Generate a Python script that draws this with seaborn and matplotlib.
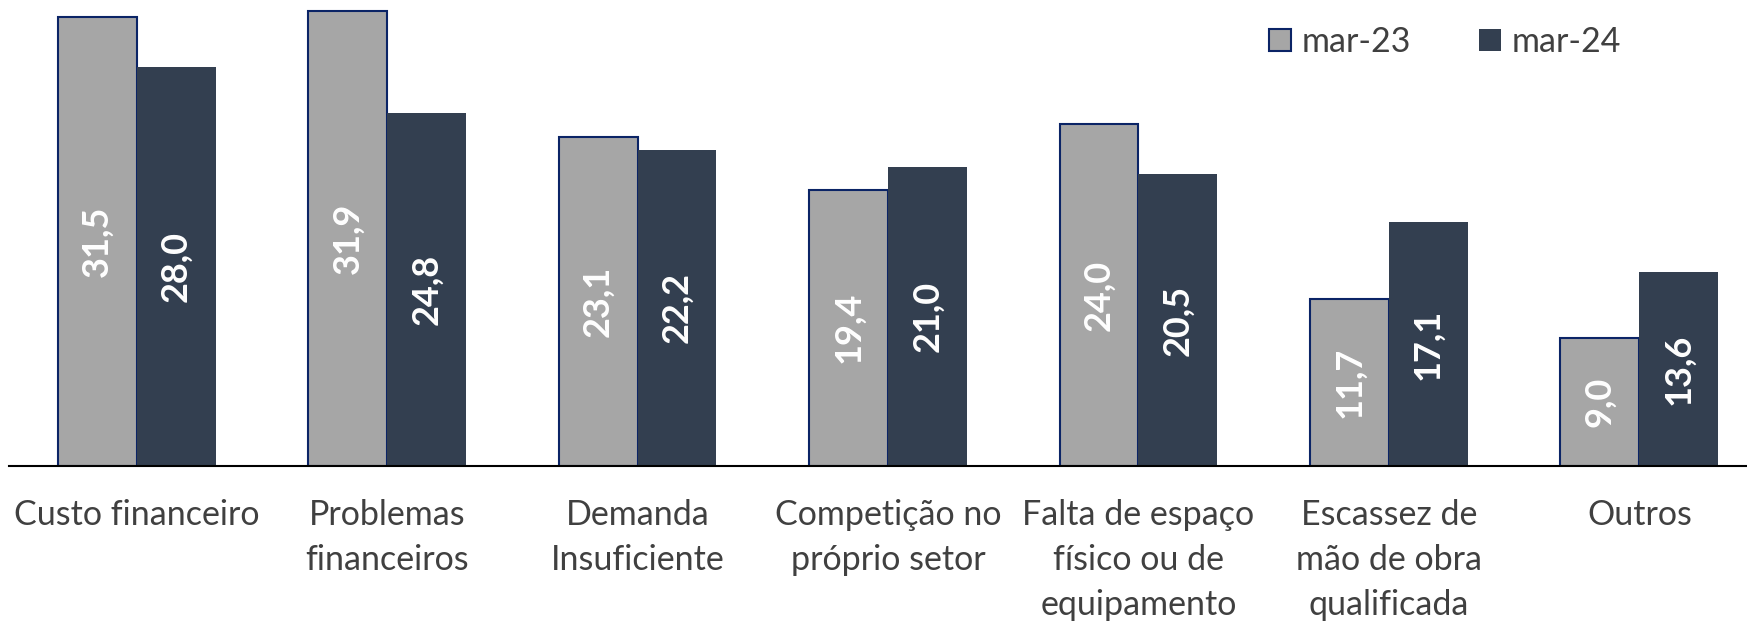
import pandas as pd
import numpy as np
import matplotlib.pyplot as plt
import seaborn as sns

# ============ DADOS ============
categorias = ['Custo financeiro', 'Problemas\nfinanceiros', 'Demanda\nInsuficiente',
              'Competição no\npróprio setor', 'Falta de espaço\nfísico ou de\nequipamento',
              'Escassez de\nmão de obra\nqualificada', 'Outros']
series = ['mar-23', 'mar-24']
mar23 = [31.5, 31.9, 23.1, 19.4, 24.0, 11.7, 9.0]
mar24 = [28.0, 24.8, 22.2, 21.0, 20.5, 17.1, 13.6]

df = pd.DataFrame({
    'categoria': categorias * 2,
    'periodo': [series[0]] * len(categorias) + [series[1]] * len(categorias),
    'valor': mar23 + mar24,
})

# ============ ESTILO ============
sns.set_style('white')
plt.rcParams['font.family'] = ['Lato', 'DejaVu Sans']
cores = {'mar-23': '#A6A6A6', 'mar-24': '#333F50'}
cor_texto = '#404040'
cor_borda = '#0B2466'

fig = plt.figure(figsize=(17.47, 6.22), dpi=100)
ax = fig.add_axes([9 / 1747, 1 - 466 / 622, 1 - 9 / 1747, 466 / 622])

sns.barplot(data=df, x='categoria', y='valor', hue='periodo', order=categorias,
            hue_order=series, palette=cores, width=0.63, saturation=1, ax=ax,
            edgecolor='none', linewidth=0)

# borda azul escura nas barras cinzas
for p in ax.containers[0]:
    p.set_edgecolor(cor_borda)
    p.set_linewidth(1.5)

for cont in ax.containers:
    ax.bar_label(cont, labels=[f'{v:.1f}'.replace('.', ',') for v in cont.datavalues],
                 label_type='center', rotation=90, color='white', fontsize=26,
                 fontweight='bold')

ax.set_ylim(0, 466 / 14.25)
ax.set_xlim(-0.51, 6.43)
ax.set_yticks([])
ax.set_xlabel('')
ax.set_ylabel('')
for s in ['top', 'right', 'left']:
    ax.spines[s].set_visible(False)
ax.spines['bottom'].set_color('black')
ax.spines['bottom'].set_linewidth(1.5)
ax.tick_params(axis='x', length=0, pad=24, labelsize=24.5, labelcolor=cor_texto)
for t in ax.get_xticklabels():
    t.set_linespacing(1.5)
    t.set_verticalalignment('top')

leg = ax.legend(loc='upper right', bbox_to_anchor=(0.945, 1.01), ncol=2, frameon=False,
                fontsize=24.5, handlelength=0.65, handleheight=0.65, handletextpad=0.3,
                columnspacing=2.0, labelcolor=cor_texto)
leg.legend_handles[0].set_edgecolor(cor_borda)
leg.legend_handles[0].set_linewidth(1.5)

fig.savefig('out.png', dpi=100)
